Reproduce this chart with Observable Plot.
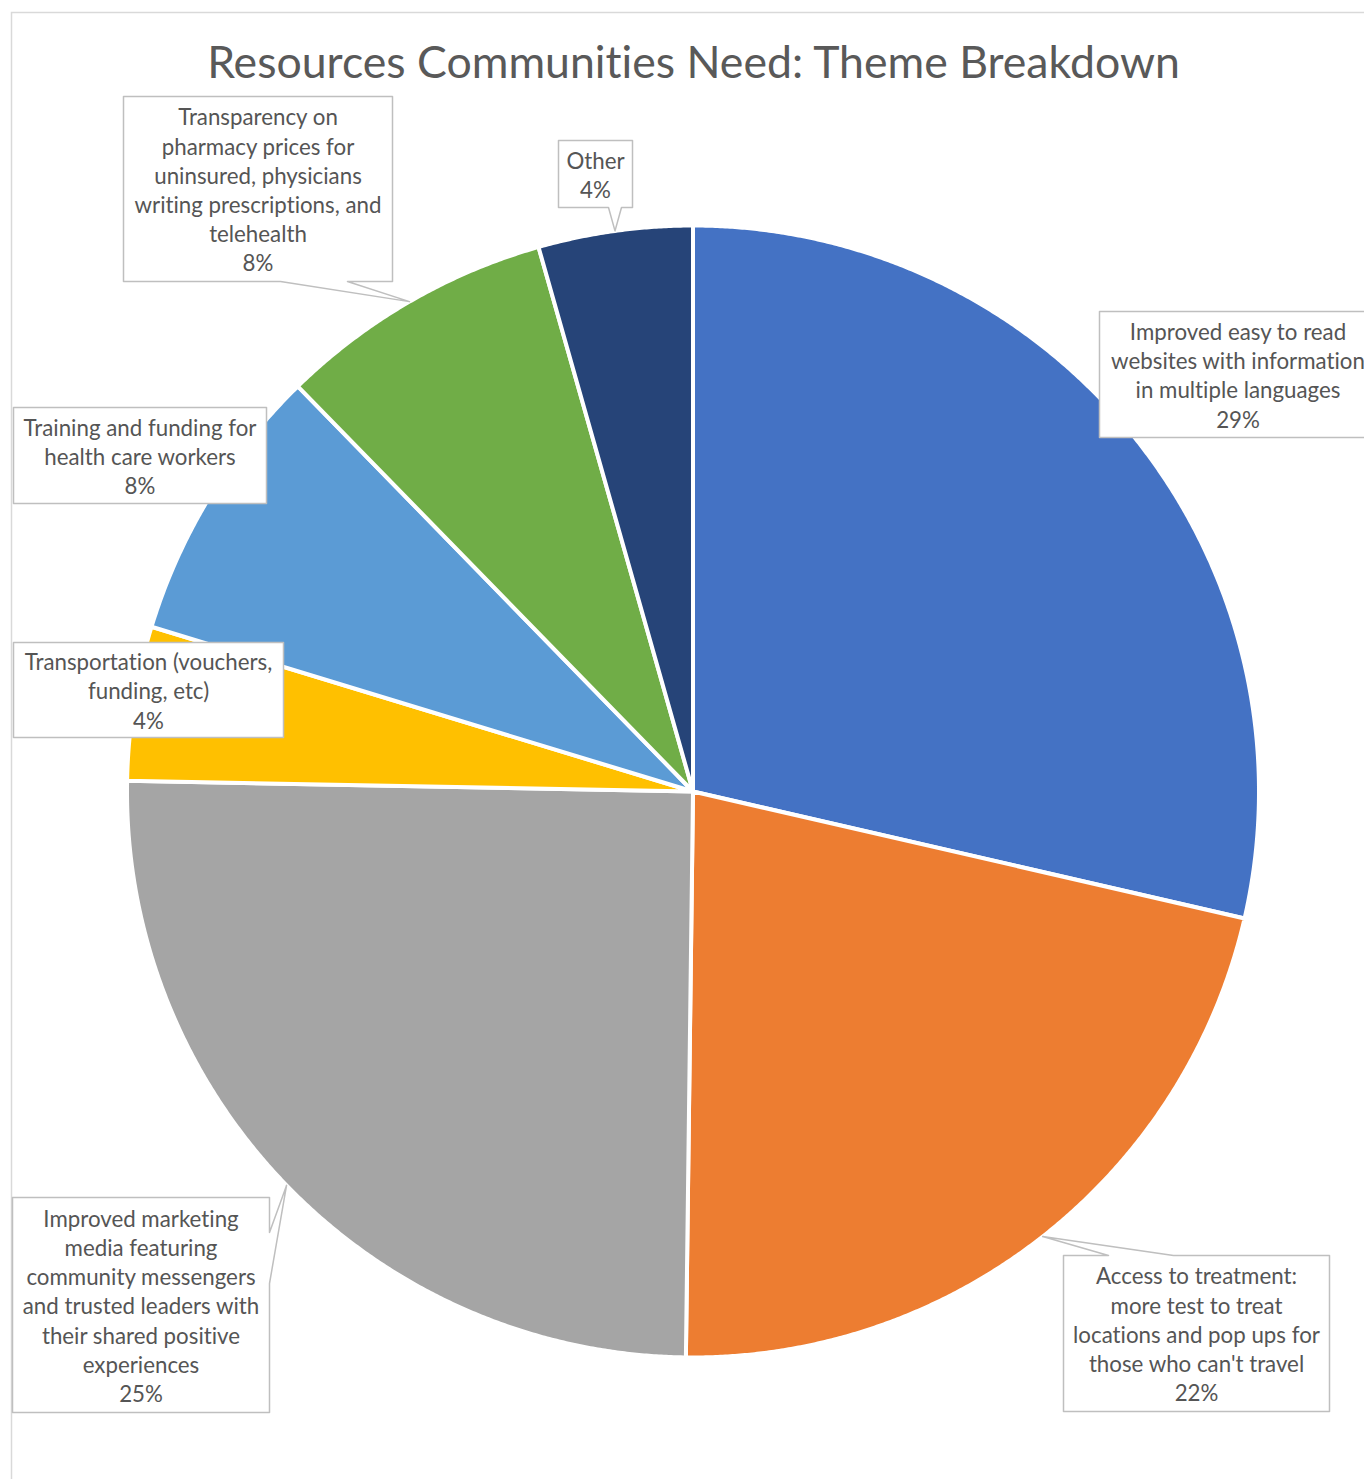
<!DOCTYPE html>
<html><head><meta charset="utf-8">
<script src="https://cdn.jsdelivr.net/npm/d3@7"></script>
<script src="https://cdn.jsdelivr.net/npm/@observablehq/plot@0.6"></script>
<style>html,body{margin:0;padding:0;background:#fff;overflow:hidden} svg text{font-variant-ligatures:none;font-feature-settings:"liga" 0,"clig" 0}</style>
</head><body><div id="chart"></div>
<script>
// ---------- DATA ----------
const title = "Resources Communities Need: Theme Breakdown";
const categories = [
  "Improved easy to read websites with information in multiple languages",
  "Access to treatment: more test to treat locations and pop ups for those who can't travel",
  "Improved marketing media featuring community messengers and trusted leaders with their shared positive experiences",
  "Transportation (vouchers, funding, etc)",
  "Training and funding for health care workers",
  "Transparency on pharmacy prices for uninsured, physicians writing prescriptions, and telehealth",
  "Other"
];
const labelLines = [
  ["Improved easy to read", "websites with information", "in multiple languages"],
  ["Access to treatment:", "more test to treat", "locations and pop ups for", "those who can't travel"],
  ["Improved marketing", "media featuring", "community messengers", "and trusted leaders with", "their shared positive", "experiences"],
  ["Transportation (vouchers,", "funding, etc)"],
  ["Training and funding for", "health care workers"],
  ["Transparency on", "pharmacy prices for", "uninsured, physicians", "writing prescriptions, and", "telehealth"],
  ["Other"]
];
const shares = [28.6, 21.6, 25.1, 4.4, 8.0, 7.9, 4.4];
const colors = ["#4472C4", "#ED7D31", "#A5A5A5", "#FFC000", "#5B9BD5", "#70AD47", "#264478"];

// ---------- LAYOUT (pixels) ----------
const W = 1364, H = 1479;
const CX = 692.5, CY = 791, R = 566;
const FONT = "Lato, 'Open Sans', sans-serif";
const LABEL_SIZE = 22.3, LINE_PX = 29.2, TITLE_SIZE = 44.6;
const callouts = [
  {box: [1099, 311, 1376, 437], side: null},
  {box: [1063, 1255, 1329, 1411], side: "top", base: [1108, 1173]},
  {box: [12, 1197, 269, 1412], side: "right", base: [1232, 1283]},
  {box: [13, 642, 283, 737], side: null},
  {box: [13, 407, 266, 503], side: null},
  {box: [123, 96, 392, 281], side: "bottom", base: [280, 347]},
  {box: [558, 140, 632, 207], side: "bottom", base: [608, 621]}
];

// ---------- GEOMETRY ----------
const total = d3.sum(shares);
const slicePts = [];
const mids = [];
let cum = 0;
shares.forEach((s, i) => {
  const a0 = cum / total * 2 * Math.PI, a1 = (cum + s) / total * 2 * Math.PI;
  cum += s;
  mids.push((a0 + a1) / 2);
  slicePts.push({name: categories[i], x: CX, y: CY});
  const n = Math.max(2, Math.ceil((a1 - a0) / (Math.PI / 720)));
  for (let j = 0; j <= n; j++) {
    const a = a0 + (a1 - a0) * j / n;
    slicePts.push({name: categories[i], x: CX + R * Math.sin(a), y: CY - R * Math.cos(a)});
  }
  slicePts.push({name: categories[i], x: CX, y: CY});
});

const boxPts = [];
const labels = [];
callouts.forEach((c, i) => {
  const [x1, y1, x2, y2] = c.box;
  const tip = {x: CX + R * Math.sin(mids[i]), y: CY - R * Math.cos(mids[i])};
  let pts;
  if (c.side === "bottom") {
    const [b1, b2] = c.base;
    pts = [[x1, y1], [x2, y1], [x2, y2], [b2, y2], [tip.x, tip.y], [b1, y2], [x1, y2], [x1, y1]];
  } else if (c.side === "top") {
    const [b1, b2] = c.base;
    pts = [[x1, y1], [b1, y1], [tip.x, tip.y], [b2, y1], [x2, y1], [x2, y2], [x1, y2], [x1, y1]];
  } else if (c.side === "right") {
    const [b1, b2] = c.base;
    pts = [[x1, y1], [x2, y1], [x2, b1], [tip.x, tip.y], [x2, b2], [x2, y2], [x1, y2], [x1, y1]];
  } else {
    pts = [[x1, y1], [x2, y1], [x2, y2], [x1, y2], [x1, y1]];
  }
  pts.forEach(([x, y]) => boxPts.push({k: i, x, y}));
  labels.push({
    text: [...labelLines[i], Math.round(shares[i] / total * 100) + "%"].join("\n"),
    x: (x1 + x2) / 2,
    y: (y1 + y2) / 2
  });
});

// ---------- PLOT ----------
const chart = Plot.plot({
  width: W, height: H,
  margin: 0,
  x: {domain: [0, W], range: [0, W], axis: null},
  y: {domain: [0, H], range: [0, H], axis: null},
  color: {domain: categories, range: colors},
  style: {background: "#fff"},
  marks: [
    Plot.frame({stroke: "#D9D9D9", strokeWidth: 1.5, insetLeft: 11, insetTop: 12, insetRight: -10, insetBottom: -10}),
    Plot.text([title], {frameAnchor: "top", dx: 11, dy: 63, text: d => d, fontSize: TITLE_SIZE, fontFamily: FONT, fill: "#595959", lineAnchor: "middle"}),
    Plot.line(slicePts, {x: "x", y: "y", z: "name", fill: "name", stroke: "#fff", strokeWidth: 4, strokeLinejoin: "round"}),
    Plot.line(boxPts, {x: "x", y: "y", z: "k", fill: "#fff", stroke: "#BFBFBF", strokeWidth: 1.5}),
    Plot.text(labels, {x: "x", y: "y", text: "text", fontSize: LABEL_SIZE, fontFamily: FONT, fill: "#555555", lineAnchor: "middle", lineHeight: LINE_PX / LABEL_SIZE})
  ]
});
document.getElementById("chart").appendChild(chart);
</script>
</body></html>
